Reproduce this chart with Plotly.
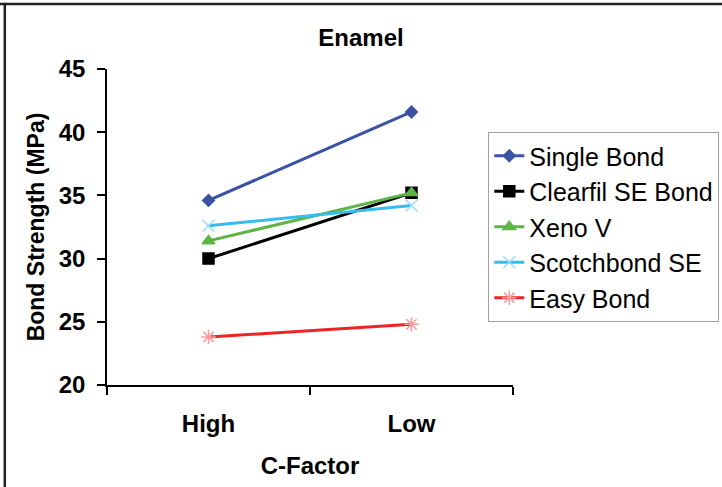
import plotly.graph_objects as go

categories = ["High", "Low"]
series_names = ["Single Bond", "Clearfil SE Bond", "Xeno V", "Scotchbond SE", "Easy Bond"]
single_bond = [34.6, 41.6]
clearfil_se_bond = [30.0, 35.2]
xeno_v = [31.4, 35.2]
scotchbond_se = [32.6, 34.2]
easy_bond = [23.8, 24.8]
y_ticks = [20, 25, 30, 35, 40, 45]

series_values = [single_bond, clearfil_se_bond, xeno_v, scotchbond_se, easy_bond]
colors = ["#3A53A4", "#000000", "#5DB546", "#35BDEF", "#EE2424"]
marker_colors = ["#3A53A4", "#000000", "#5DB546", "#9ADDF7", "#F79A9A"]
symbols = ["diamond", "square", "triangle-up", "x-thin-open", "asterisk-open"]
msizes = [9, 11, 11, 12, 12]

FONT = "Liberation Sans, Arial, sans-serif"

fig = go.Figure()
for i, (name, vals) in enumerate(zip(series_names, series_values)):
    fig.add_trace(go.Scatter(
        x=categories, y=vals, name=name, mode="lines+markers",
        line=dict(color=colors[i], width=3),
        marker=dict(symbol=symbols[i], size=msizes[i], color=marker_colors[i],
                    line=dict(color=marker_colors[i], width=1.5)),
    ))

fig.update_layout(
    width=722, height=487, autosize=False,
    margin=dict(l=107, r=209, t=69, b=102, autoexpand=False),
    paper_bgcolor="white", plot_bgcolor="white",
    font=dict(family=FONT, color="black"),
    title=dict(text="<b>Enamel</b>", xref="container", x=0.5, xanchor="center",
               yref="container", y=1 - 38 / 487, yanchor="middle",
               font=dict(size=24, family=FONT, color="black")),
    showlegend=True,
    legend=dict(x=(488 - 106.7) / 406, y=(385 - 132) / 316, xanchor="left", yanchor="top",
                bordercolor="#A0A0A0", borderwidth=1, bgcolor="white",
                font=dict(size=25, family=FONT, color="black"),
                itemwidth=30),
    xaxis=dict(type="category", range=[-0.5, 1.5], showgrid=False,
               showline=True, linecolor="black", linewidth=1.5,
               ticks="outside", ticklen=8, tickcolor="black", tickwidth=1.5,
               tickson="boundaries", ticklabelstandoff=16,
               tickfont=dict(size=24, family=FONT, weight="bold", color="black"),
               title=dict(text="<b>C-Factor</b>", standoff=22,
                          font=dict(size=24, family=FONT, color="black")),
               zeroline=False),
    yaxis=dict(range=[20, 45], tickvals=y_ticks, showgrid=False,
               showline=True, linecolor="black", linewidth=1.5,
               ticks="outside", ticklen=8, tickcolor="black", tickwidth=1.5,
               ticklabelstandoff=7,
               tickfont=dict(size=24, family=FONT, weight="bold", color="black"),
               title=dict(text="<b>Bond Strength (MPa)</b>", standoff=8,
                          font=dict(size=23, family=FONT, color="black")),
               zeroline=False),
    shapes=[
        dict(type="line", xref="paper", yref="paper",
             x0=-0.30, x1=1.8, y0=(385 - 4) / 316, y1=(385 - 4) / 316,
             line=dict(color="#222222", width=2.5)),
        dict(type="line", xref="paper", yref="paper",
             x0=(4.5 - 106.7) / 406, x1=(4.5 - 106.7) / 406, y0=-0.5, y1=(385 - 2.8) / 316,
             line=dict(color="#222222", width=2.5)),
    ],
)

fig.write_html("out.html", config={"displayModeBar": False},
               post_script="document.body.style.margin='0px';document.body.style.overflow='hidden';")
